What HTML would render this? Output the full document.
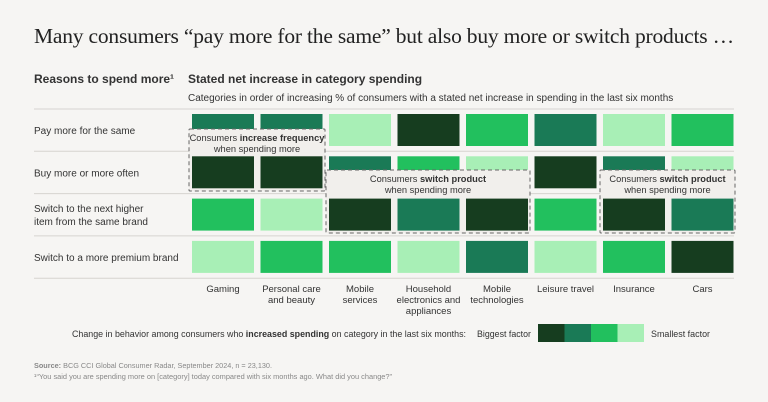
<!DOCTYPE html>
<html><head><meta charset="utf-8"><style>
body{margin:0;background:#f6f5f3;font-family:"Liberation Sans",sans-serif;color:#333;}
#c{position:relative;width:768px;height:402px;overflow:hidden;}
.t{position:absolute;white-space:nowrap;}
</style></head><body>
<div id="c">
<div class="t" style="left:34px;top:24px;font-family:'Liberation Serif',serif;font-size:21.5px;color:#222;letter-spacing:-0.2px">Many consumers “pay more for the same” but also buy more or switch products …</div>
<div class="t" style="left:34px;top:72px;font-size:12px;font-weight:bold;color:#333">Reasons to spend more¹</div>
<div class="t" style="left:188px;top:72px;font-size:12px;font-weight:bold;color:#333">Stated net increase in category spending</div>
<div class="t" style="left:188px;top:93px;font-size:10px;color:#333">Categories in order of increasing % of consumers with a stated net increase in spending in the last six months</div>
<svg id="s" width="768" height="402" style="position:absolute;left:0;top:0"></svg>
</div>
<script>
const rows=["Pay more for the same","Buy more or more often","Switch to the next higher|item from the same brand","Switch to a more premium brand"];
const categories=["Gaming","Personal care|and beauty","Mobile|services","Household|electronics and|appliances","Mobile|technologies","Leisure travel","Insurance","Cars"];
const row1=[2,2,4,1,3,2,4,3];
const row2=[1,1,2,3,4,1,2,4];
const row3=[3,4,1,2,1,3,1,2];
const row4=[4,3,3,4,2,4,3,1];
const levels=[row1,row2,row3,row4];
const colors=["#163d1f","#1a7a56","#22c05e","#a8efb6"];
const NS="http://www.w3.org/2000/svg";
const s=document.getElementById('s');
const x0=192,px=68.5,cw=62,y0=114,py=42.3,ch=32;
const xs=i=>x0+i*px, ys=j=>y0+j*py;
function mk(tag,a){const e=document.createElementNS(NS,tag);for(const k in a)e.setAttribute(k,a[k]);s.appendChild(e);return e;}
for(let j=0;j<=4;j++){const l=mk('line',{x1:34,x2:734,y1:ys(j)-5,y2:ys(j)-5,stroke:'#d6d4d0','stroke-width':1});
}
rows.forEach((r,j)=>{const parts=r.split('|');const t=mk('text',{x:34,y:ys(j)+ch/2+4-(parts.length-1)*6.5,'font-size':10,fill:'#333','font-family':'Liberation Sans,sans-serif'});

parts.forEach((p,k)=>{const ts=document.createElementNS(NS,'tspan');ts.setAttribute('x',34);ts.setAttribute('dy',k?13:0);ts.textContent=p;t.appendChild(ts);});});
levels.forEach((row,j)=>row.forEach((v,i)=>{const r=mk('rect',{x:xs(i),y:ys(j),width:cw,height:ch,fill:colors[v-1]});
}));
categories.forEach((c,i)=>{const t=mk('text',{x:xs(i)+cw/2,y:292,'font-size':9.5,fill:'#333','text-anchor':'middle','font-family':'Liberation Sans,sans-serif'});

c.split('|').forEach((p,k)=>{const ts=document.createElementNS(NS,'tspan');ts.setAttribute('x',xs(i)+cw/2);ts.setAttribute('dy',k?11:0);ts.textContent=p;t.appendChild(ts);});});
function box(x,y,w,h,b,name){const r=mk('rect',{x:x,y:y,width:w,height:h,fill:'#f1efec',stroke:'#666','stroke-dasharray':'4,3','stroke-width':1,rx:1});

const cx=x+w/2;
const t=mk('text',{x:cx,y:y+12,'font-size':9.3,fill:'#333','text-anchor':'middle','font-family':'Liberation Sans,sans-serif'});

t.innerHTML='Consumers <tspan font-weight="bold">'+b+'</tspan>';
const t2=mk('text',{x:cx,y:y+23,'font-size':9.3,fill:'#333','text-anchor':'middle','font-family':'Liberation Sans,sans-serif'});t2.textContent='when spending more';

}
box(189,129,136,62,'increase frequency','annotation-frequency');
[[0,1],[1,1]].forEach(([i,j])=>{const r=mk('rect',{x:xs(i),y:ys(j),width:cw,height:ch,fill:colors[levels[j][i]-1]});});
box(326,170,204,63,'switch product','annotation-switch-1');
box(600,170,135,63,'switch product','annotation-switch-2');
[[2,2],[3,2],[4,2],[6,2],[7,2]].forEach(([i,j])=>{const r=mk('rect',{x:xs(i),y:ys(j),width:cw,height:ch,fill:colors[levels[j][i]-1]});});
// legend
const lt=mk('text',{x:72,y:337,'font-size':9.5,fill:'#333','font-family':'Liberation Sans,sans-serif',textLength:394,lengthAdjust:'spacingAndGlyphs'});
lt.innerHTML='Change in behavior among consumers who <tspan font-weight="bold">increased spending</tspan> on category in the last six months:';

const lb=mk('text',{x:477,y:337,'font-size':9.5,fill:'#333','font-family':'Liberation Sans,sans-serif',textLength:54,lengthAdjust:'spacingAndGlyphs'});lb.textContent='Biggest factor';

colors.forEach((c,k)=>{const r=mk('rect',{x:538+k*26.5,y:324,width:26.5,height:18,fill:c});});
const ls=mk('text',{x:651,y:337,'font-size':9.5,fill:'#333','font-family':'Liberation Sans,sans-serif',textLength:59,lengthAdjust:'spacingAndGlyphs'});ls.textContent='Smallest factor';

const so=mk('text',{x:34,y:368,'font-size':7,fill:'#888','font-family':'Liberation Sans,sans-serif',textLength:238,lengthAdjust:'spacingAndGlyphs'});
so.innerHTML='<tspan font-weight="bold">Source:</tspan> BCG CCI Global Consumer Radar, September 2024, n = 23,130.';

const fn=mk('text',{x:34,y:379,'font-size':7,fill:'#888','font-family':'Liberation Sans,sans-serif',textLength:358,lengthAdjust:'spacingAndGlyphs'});
fn.textContent='¹“You said you are spending more on [category] today compared with six months ago. What did you change?”';

</script>
</body></html>
